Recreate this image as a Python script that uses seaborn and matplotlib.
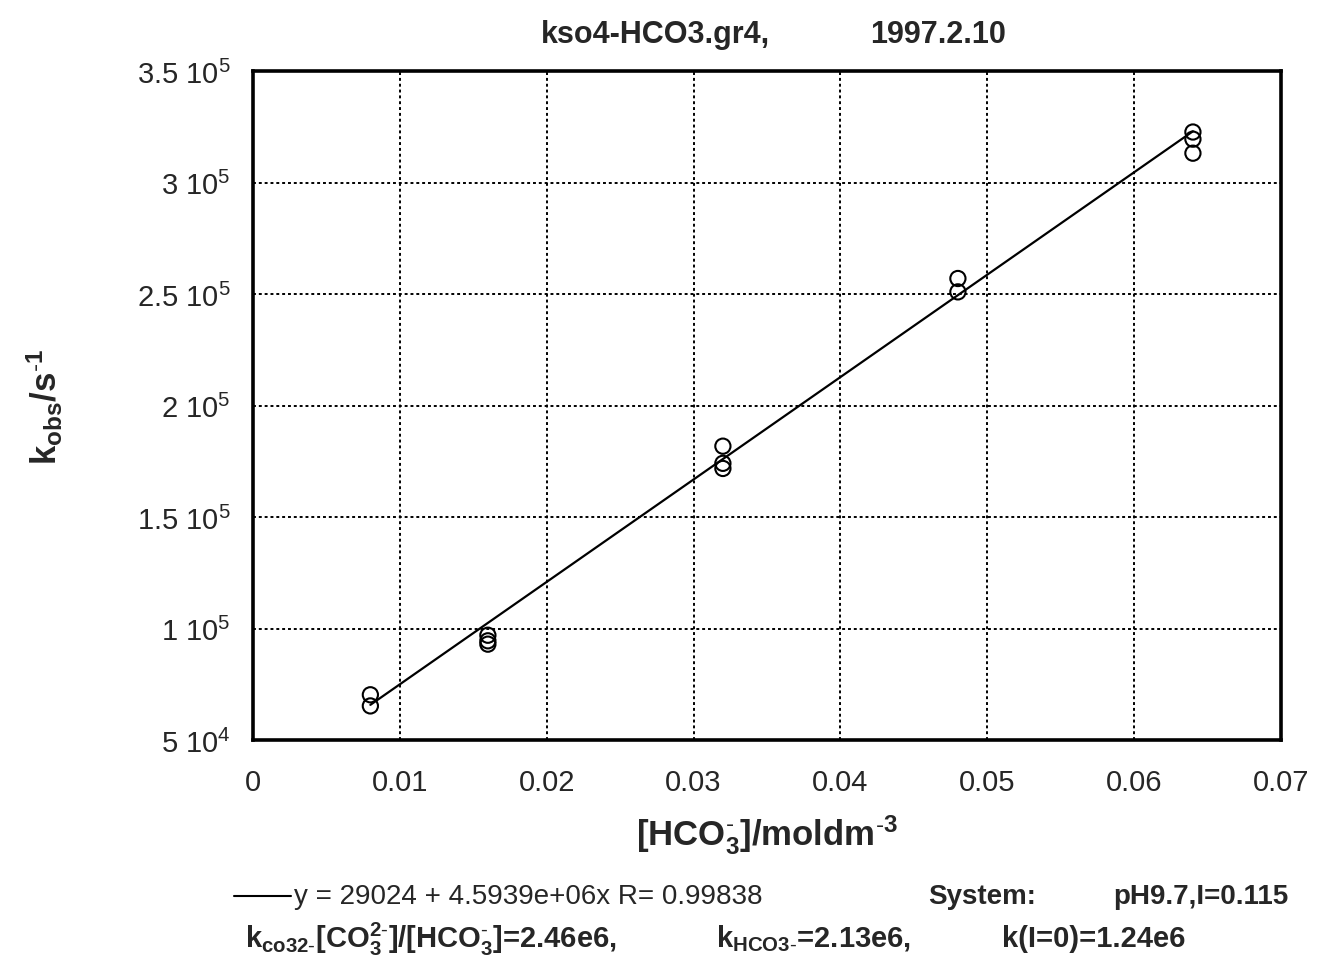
import matplotlib
matplotlib.use("Agg")
import matplotlib.pyplot as plt
import seaborn as sns
import pandas as pd
from matplotlib.lines import Line2D

# ---- data ----
hco3_conc = [0.008, 0.008,
             0.016, 0.016, 0.016,
             0.032, 0.032, 0.032,
             0.048, 0.048,
             0.064, 0.064, 0.064]
k_obs = [70300, 65300,
         97000, 94500, 93000,
         181800, 174100, 171800,
         257000, 251000,
         322700, 319500, 313200]
fit_x = [0.008, 0.064]
fit_y = [65775, 323034]   # y = 29024 + 4.5939e6 x at the end points

x_ticks = [0, 0.01, 0.02, 0.03, 0.04, 0.05, 0.06, 0.07]
x_tick_labels = ["0", "0.01", "0.02", "0.03", "0.04", "0.05", "0.06", "0.07"]
y_ticks = [50000, 100000, 150000, 200000, 250000, 300000, 350000]
y_tick_labels = ["5 10$^4$", "1 10$^5$", "1.5 10$^5$", "2 10$^5$",
                 "2.5 10$^5$", "3 10$^5$", "3.5 10$^5$"]

title_left = "kso4-HCO3.gr4,"
title_right = "1997.2.10"

sns.set_theme(style="white")
plt.rcParams["font.family"] = ["Liberation Sans", "DejaVu Sans"]
plt.rcParams["mathtext.fontset"] = "custom"
plt.rcParams["mathtext.rm"] = "Liberation Sans"
plt.rcParams["mathtext.it"] = "Liberation Sans"
plt.rcParams["mathtext.bf"] = "Liberation Sans:bold"
plt.rcParams["mathtext.default"] = "regular"

fig = plt.figure(figsize=(13.17, 9.62), dpi=100)
ax = fig.add_axes([0.192, 0.2297, 0.7807, 0.6953])

df = pd.DataFrame({"x": hco3_conc, "y": k_obs})
fit = pd.DataFrame({"x": fit_x, "y": fit_y})

sns.lineplot(data=fit, x="x", y="y", ax=ax, color="black", linewidth=1.6, zorder=3)
sns.scatterplot(data=df, x="x", y="y", ax=ax, marker="o", s=120,
                facecolors="none", edgecolor="black", linewidth=1.5, zorder=4)

ax.set_xlim(0, 0.07)
ax.set_ylim(50000, 350000)
ax.set_xticks(x_ticks)
ax.set_xticklabels(x_tick_labels, fontsize=21)
ax.set_yticks(y_ticks)
ax.set_yticklabels(y_tick_labels, fontsize=21)
ax.tick_params(axis="x", pad=20, length=0)
ax.tick_params(axis="y", pad=16, length=0)
ax.grid(True, color="black", linestyle=(0, (1.5, 1.5)), linewidth=1.4)
for s in ax.spines.values():
    s.set_linewidth(2.6)
    s.set_color("black")

ax.set_xlabel("[HCO$_3^{\\text{-}}$]/moldm$^{\\text{-}3}$", fontsize=25,
              fontweight="bold", labelpad=12)
ax.set_ylabel("k$_{obs}$/s$^{\\text{-}1}$", fontsize=25, fontweight="bold", labelpad=52)

fig.text(0.498, 0.964, title_left, fontsize=22, fontweight="bold", ha="center", va="center")
fig.text(0.712, 0.964, title_right, fontsize=22, fontweight="bold", ha="center", va="center")

# bottom annotation lines
fig.add_artist(Line2D([0.178, 0.221], [0.0676, 0.0676], color="black", lw=1.5,
                      transform=fig.transFigure))
fig.text(0.223, 0.0676, "y = 29024 + 4.5939e+06x R= 0.99838", fontsize=20,
         va="center", ha="left")
fig.text(0.705, 0.0676, "System:", fontsize=20, fontweight="bold", va="center", ha="left")
fig.text(0.845, 0.0676, "pH9.7,I=0.115", fontsize=20, fontweight="bold", va="center", ha="left")
fig.text(0.186, 0.024,
         "k$_{co32\\text{-}}$[CO$_3^{2\\text{-}}$]/[HCO$_3^{\\text{-}}$]=2.46e6,",
         fontsize=21, fontweight="bold", va="center", ha="left")
fig.text(0.544, 0.024, "k$_{HCO3\\text{-}}$=2.13e6,", fontsize=21, fontweight="bold",
         va="center", ha="left")
fig.text(0.761, 0.024, "k(I=0)=1.24e6", fontsize=21, fontweight="bold",
         va="center", ha="left")

fig.savefig("out.png", dpi=100, facecolor="white")
